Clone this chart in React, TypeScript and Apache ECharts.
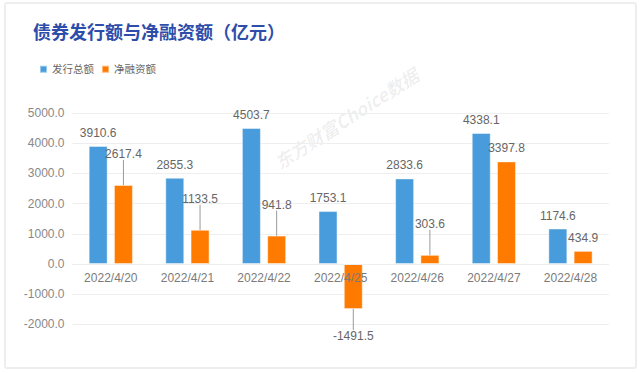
import React, { useEffect, useRef } from "react";
import * as echarts from "echarts";

const categories = ["2022/4/20", "2022/4/21", "2022/4/22", "2022/4/25", "2022/4/26", "2022/4/27", "2022/4/28"];
const issueTotal = [3910.6, 2855.3, 4503.7, 1753.1, 2833.6, 4338.1, 1174.6];
const netFinancing = [2617.4, 1133.5, 941.8, -1491.5, 303.6, 3397.8, 434.9];
const yTicks = { min: -2000, max: 5000, interval: 1000 };
const seriesNames = ["发行总额", "净融资额"];

// label displacement (styling) for the net-financing labels
const netLabelShift = [-18, -18, -18, 14, -18, 0, 0];

const FONT = "'Liberation Sans', 'Noto Sans CJK SC', sans-serif";
const GRID_TOP = 113;
const GRID_H = 211.4;
// move the category axis up to the zero line
const zeroOffset = -((0 - yTicks.min) / (yTicks.max - yTicks.min)) * GRID_H;

export default function App() {
  const ref = useRef<HTMLDivElement>(null);
  useEffect(() => {
    if (!ref.current) return;
    const chart = echarts.init(ref.current, undefined, { renderer: "svg" });
    chart.setOption({
      animation: false,
      backgroundColor: "#ffffff",
      textStyle: { fontFamily: FONT },
      title: {
        text: "债券发行额与净融资额（亿元）",
        left: 28,
        top: 19,
        textStyle: { color: "#2D4DAA", fontSize: 18, fontWeight: "bold", fontFamily: FONT },
      },
      legend: {
        left: 34,
        top: 59,
        itemWidth: 7,
        itemHeight: 7,
        itemGap: 7,
        icon: "rect",
        textStyle: { color: "#666", fontSize: 10.5, fontFamily: FONT },
        data: seriesNames,
      },
      graphic: [
        {
          type: "rect",
          shape: { x: 5, y: 3, width: 631, height: 365, r: 2 },
          style: { fill: "none", stroke: "#eeeeee", lineWidth: 2 },
          z: -10,
          silent: true,
        },
        {
          type: "text",
          x: 346,
          y: 118,
          rotation: (33 * Math.PI) / 180,
          z: -5,
          silent: true,
          style: {
            text: "东方财富Choice数据",
            fill: "rgba(0,0,0,0.07)",
            font: "italic bold 18px 'Noto Sans CJK SC', sans-serif",
            align: "center",
            verticalAlign: "middle",
          },
        },
      ],
      grid: { left: 72.5, right: 31.2, top: GRID_TOP, height: GRID_H, containLabel: false },
      xAxis: {
        type: "category",
        data: categories,
        offset: zeroOffset,
        z: 10,
        axisTick: { show: false },
        axisLine: { show: true, onZero: false, lineStyle: { color: "#eeeeee" } },
        axisLabel: { color: "#7a7a7a", fontSize: 12, margin: 8, fontFamily: FONT },
      },
      yAxis: {
        type: "value",
        min: yTicks.min,
        max: yTicks.max,
        interval: yTicks.interval,
        z: 0,
        axisLine: { show: false },
        axisTick: { show: false },
        splitLine: { lineStyle: { color: "#eeeeee" } },
        axisLabel: {
          color: "#888",
          fontSize: 12,
          margin: 8,
          fontFamily: FONT,
          formatter: (v: number) => v.toFixed(1),
        },
      },
      series: [
        {
          name: seriesNames[0],
          type: "bar",
          z: 1,
          barWidth: 19,
          barGap: "33%",
          data: issueTotal,
          itemStyle: { color: "#489CDB", borderColor: "rgba(255,255,255,0.45)", borderWidth: 1 },
          label: {
            show: true,
            position: "top",
            distance: 7,
            color: "#666",
            fontSize: 12,
            fontFamily: FONT,
            formatter: (p: any) => Number(p.value).toFixed(1),
          },
        },
        {
          name: seriesNames[1],
          type: "bar",
          z: 1,
          barWidth: 19,
          barGap: "33%",
          data: netFinancing.map((v, i) => ({
            value: v,
            label: { position: v < 0 ? "bottom" : "top" },
            labelLine: { show: netLabelShift[i] !== 0 },
          })),
          itemStyle: { color: "#FF7B00", borderColor: "rgba(255,255,255,0.45)", borderWidth: 1 },
          label: {
            show: true,
            position: "top",
            distance: 7,
            color: "#666",
            fontSize: 12,
            fontFamily: FONT,
            formatter: (p: any) => Number(p.value).toFixed(1),
          },
          labelLine: { show: true, lineStyle: { color: "#999", width: 1 } },
          labelLayout: (params: any) => ({ dy: netLabelShift[params.dataIndex] }),
        },
      ],
    });
    return () => chart.dispose();
  }, []);
  return (
    <div style={{ position: "absolute", left: 0, top: 0, width: 640, height: 373, background: "#fff" }}>
      <div ref={ref} style={{ width: 640, height: 373 }} />
    </div>
  );
}
